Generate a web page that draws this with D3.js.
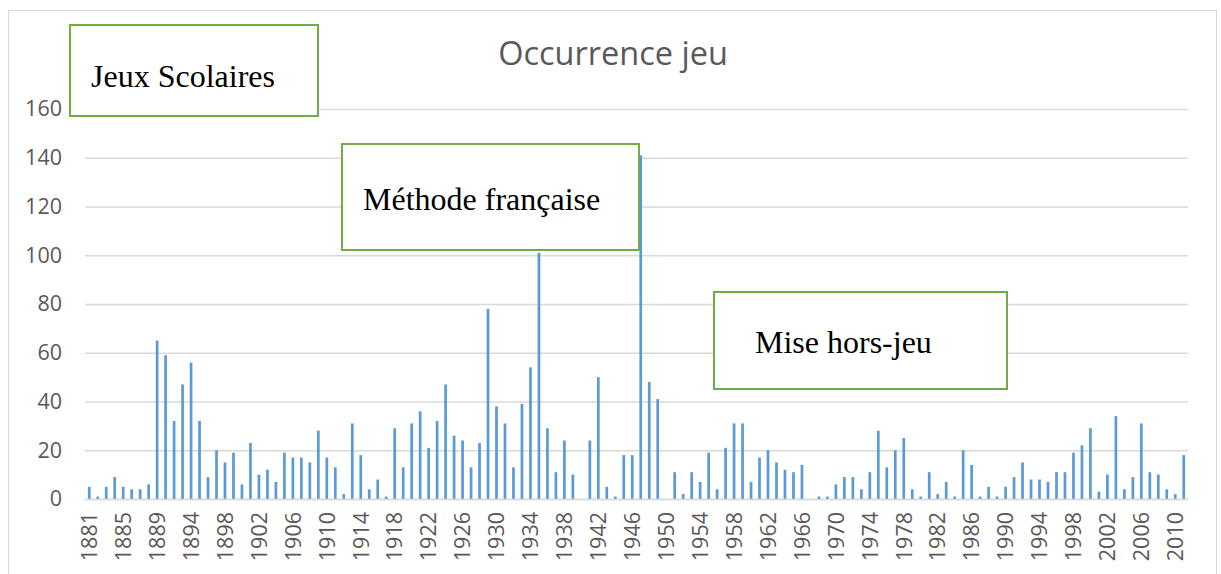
<!DOCTYPE html>
<html lang="fr">
<head>
<meta charset="UTF-8">
<script src="https://cdnjs.cloudflare.com/ajax/libs/d3/7.8.5/d3.min.js"></script>
<title>Occurrence jeu</title>
<style>
  body { margin: 0; background: #fff; }
  svg { display: block; }
</style>
</head>
<body>
<svg id="chart" width="1221" height="574"></svg>
<script>
// categories (1890 absent from the source table)
var years = [
  1881, 1882, 1883, 1884, 1885, 1886, 1887, 1888, 1889,
  1891, 1892, 1893, 1894, 1895, 1896, 1897, 1898, 1899, 1900,
  1901, 1902, 1903, 1904, 1905, 1906, 1907, 1908, 1909, 1910,
  1911, 1912, 1913, 1914, 1915, 1916, 1917, 1918, 1919, 1920,
  1921, 1922, 1923, 1924, 1925, 1926, 1927, 1928, 1929, 1930,
  1931, 1932, 1933, 1934, 1935, 1936, 1937, 1938, 1939, 1940,
  1941, 1942, 1943, 1944, 1945, 1946, 1947, 1948, 1949, 1950,
  1951, 1952, 1953, 1954, 1955, 1956, 1957, 1958, 1959, 1960,
  1961, 1962, 1963, 1964, 1965, 1966, 1967, 1968, 1969, 1970,
  1971, 1972, 1973, 1974, 1975, 1976, 1977, 1978, 1979, 1980,
  1981, 1982, 1983, 1984, 1985, 1986, 1987, 1988, 1989, 1990,
  1991, 1992, 1993, 1994, 1995, 1996, 1997, 1998, 1999, 2000,
  2001, 2002, 2003, 2004, 2005, 2006, 2007, 2008, 2009, 2010, 2011
];

var occurrences = [
  5, 1, 5, 9, 5, 4, 4, 6, 65,
  59, 32, 47, 56, 32, 9, 20, 15, 19, 6,
  23, 10, 12, 7, 19, 17, 17, 15, 28, 17,
  13, 2, 31, 18, 4, 8, 1, 29, 13, 31,
  36, 21, 32, 47, 26, 24, 13, 23, 78, 38,
  31, 13, 39, 54, 101, 29, 11, 24, 10, 0,
  24, 50, 5, 1, 18, 18, 141, 48, 41, 0,
  11, 2, 11, 7, 19, 4, 21, 31, 31, 7,
  17, 20, 15, 12, 11, 14, 0, 1, 1, 6,
  9, 9, 4, 11, 28, 13, 20, 25, 4, 1,
  11, 2, 7, 1, 20, 14, 1, 5, 1, 5,
  9, 15, 8, 8, 7, 11, 11, 19, 22, 29,
  3, 10, 34, 4, 9, 31, 11, 10, 4, 2, 18
];

var yTicks = [0, 20, 40, 60, 80, 100, 120, 140, 160];

var title = "Occurrence jeu";

var notes = [
  { label: "Jeux Scolaires", box: [70, 25, 318, 116], tx: 91, ty: 87 },
  { label: "Méthode française", box: [342, 144, 639, 250], tx: 363, ty: 210 },
  { label: "Mise hors-jeu", box: [714, 292, 1007, 389], tx: 755, ty: 353 }
];

var svg = d3.select("#chart");
var plotLeft = 85, plotRight = 1188, plotTop = 109, plotBottom = 499;

// outer chart frame
svg.append("rect")
  .attr("x", 8.5).attr("y", 10.5)
  .attr("width", 1208).attr("height", 620)
  .attr("fill", "#fff")
  .attr("stroke", "#d9d9d9");

var xScale = d3.scaleBand().domain(years).range([plotLeft, plotRight]).paddingInner(0.68).paddingOuter(0.34);
var yScale = d3.scaleLinear().domain([0, 160]).range([plotBottom, plotTop]);

// gridlines + y labels
var yAxis = d3.axisLeft(yScale)
  .tickValues(yTicks)
  .tickSize(-(plotRight - plotLeft))
  .tickPadding(23);

var yG = svg.append("g")
  .attr("transform", "translate(" + plotLeft + ",0)")
  .call(yAxis);
yG.select(".domain").remove();
yG.selectAll(".tick line").attr("stroke", "#d9d9d9").attr("stroke-width", 1.3);
yG.selectAll(".tick text")
  .attr("fill", "#595959")
  .style("font-family", "'Open Sans', sans-serif")
  .style("font-size", "21.5px");

// bars
svg.append("g")
  .selectAll("rect")
  .data(occurrences)
  .enter()
  .append("rect")
  .attr("x", (d, i) => xScale(years[i]))
  .attr("y", d => yScale(d))
  .attr("width", xScale.bandwidth())
  .attr("height", d => yScale(0) - yScale(d))
  .attr("fill", "#5b9bd5");

// x axis, a label every 4th category
var xAxis = d3.axisBottom(xScale)
  .tickValues(years.filter((y, i) => i % 4 == 0))
  .tickSize(0);

var xG = svg.append("g")
  .attr("transform", "translate(0," + plotBottom + ")")
  .call(xAxis);
xG.select(".domain").attr("stroke", "#d9d9d9").attr("stroke-width", 1.3);
xG.selectAll(".tick text")
  .attr("fill", "#595959")
  .style("font-family", "'Open Sans', sans-serif")
  .style("font-size", "21.5px")
  .attr("text-anchor", "end")
  .attr("transform", "rotate(-90)")
  .attr("x", -13)
  .attr("y", 0)
  .attr("dy", "0.36em");

// title
svg.append("text")
  .attr("x", 613)
  .attr("y", 65)
  .attr("text-anchor", "middle")
  .attr("fill", "#595959")
  .style("font-family", "'Open Sans', sans-serif")
  .style("font-size", "32.5px")
  .text(title);

// annotation boxes
var noteG = svg.append("g")
  .selectAll("g")
  .data(notes)
  .enter()
  .append("g");

noteG.append("rect")
  .attr("x", d => d.box[0])
  .attr("y", d => d.box[1])
  .attr("width", d => d.box[2] - d.box[0])
  .attr("height", d => d.box[3] - d.box[1])
  .attr("fill", "#fff")
  .attr("stroke", "#70ad47")
  .attr("stroke-width", 2);

noteG.append("text")
  .attr("x", d => d.tx)
  .attr("y", d => d.ty)
  .attr("fill", "#000")
  .style("font-family", "'Liberation Serif', 'Times New Roman', serif")
  .style("font-size", "32px")
  .text(d => d.label);
</script>
</body>
</html>
